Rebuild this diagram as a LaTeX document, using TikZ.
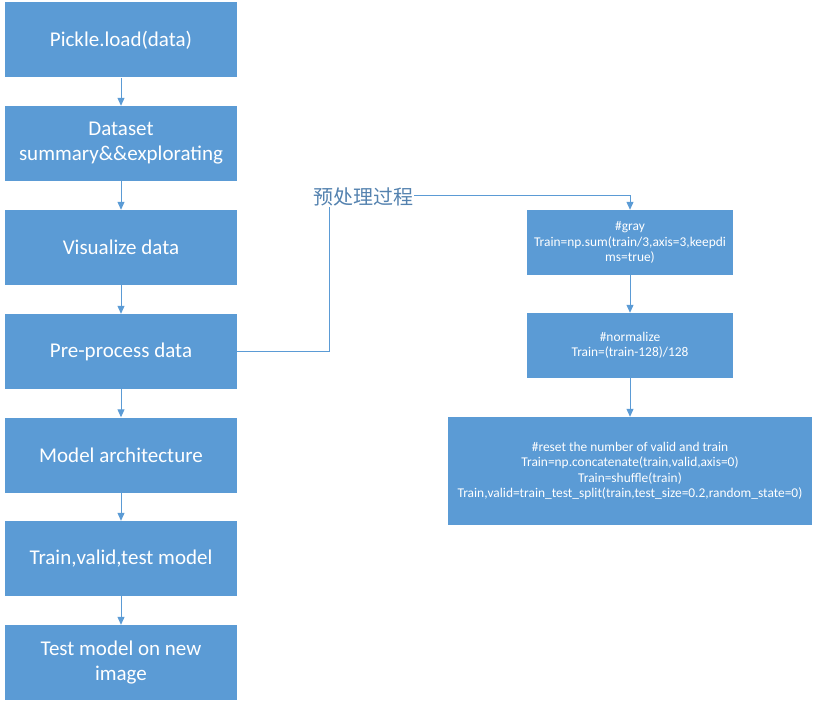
\documentclass[tikz,border=0pt]{standalone}
\usepackage{fontspec}
\setmainfont{Carlito}
\newfontfamily\cjk{Noto Sans CJK SC}
\usetikzlibrary{arrows.meta}
\definecolor{boxblue}{RGB}{91,155,213}
\definecolor{lblblue}{RGB}{84,130,175}
\tikzset{
	bigbox/.style={fill=boxblue, text=white, minimum width=232pt, minimum height=75pt, inner sep=0pt, align=center, font=\fontsize{21}{25}\selectfont},
	smallbox/.style={fill=boxblue, text=white, inner sep=0pt, align=center, font=\fontsize{13.4}{15.5}\selectfont},
	flow/.style={draw=boxblue, line width=1pt, -{Triangle[width=7pt,length=8pt]}},
	link/.style={draw=boxblue, line width=1pt}
}
\begin{document}
\begin{tikzpicture}[x=1pt,y=-1pt]
	\useasboundingbox (0,0) rectangle (818,708);
	
	\node[bigbox] (load) at (121,40) {Pickle.load(data)};
	\node[bigbox] (summary) at (121,143.5) {Dataset\\summary\&\&explorating};
	\node[bigbox] (vis) at (121,247.5) {Visualize data};
	\node[bigbox] (pre) at (121,351.5) {Pre-process data};
	\node[bigbox] (arch) at (121,455) {Model architecture};
	\node[bigbox] (train) at (121,558.5) {Train,valid,test model};
	\node[bigbox] (new) at (121,662.5) {Test model on new\\image};
	
	\node[smallbox, minimum width=206pt, minimum height=65pt] (gray) at (630,242.5) {\#gray\\Train=np.sum(train/3,axis=3,keepdi\\ms=true)};
	\node[smallbox, minimum width=206pt, minimum height=65pt] (norm) at (630,345.5) {\#normalize\\Train=(train-128)/128};
	\node[smallbox, minimum width=364pt, minimum height=108pt] (reset) at (630,471) {\#reset the number of valid and train\\Train=np.concatenate(train,valid,axis=0)\\Train=shuffle(train)\\Train,valid=train\_test\_split(train,test\_size=0.2,random\_state=0)};
	
	\draw[flow] (load) -- (summary);
	\draw[flow] (summary) -- (vis);
	\draw[flow] (vis) -- (pre);
	\draw[flow] (pre) -- (arch);
	\draw[flow] (arch) -- (train);
	\draw[flow] (train) -- (new);
	
	\node[text=lblblue, inner sep=1pt, font=\cjk\fontsize{20}{24}\selectfont] (lbl) at (363,197) {预处理过程};
	\coordinate (bend) at (329,196);
	\draw[link] (pre.east) -| (bend |- lbl.south);
	\draw[flow] (lbl.east |- bend) -| (gray.north);
	\draw[flow] (gray) -- (norm);
	\draw[flow] (norm) -- (reset);
\end{tikzpicture}
\end{document}
